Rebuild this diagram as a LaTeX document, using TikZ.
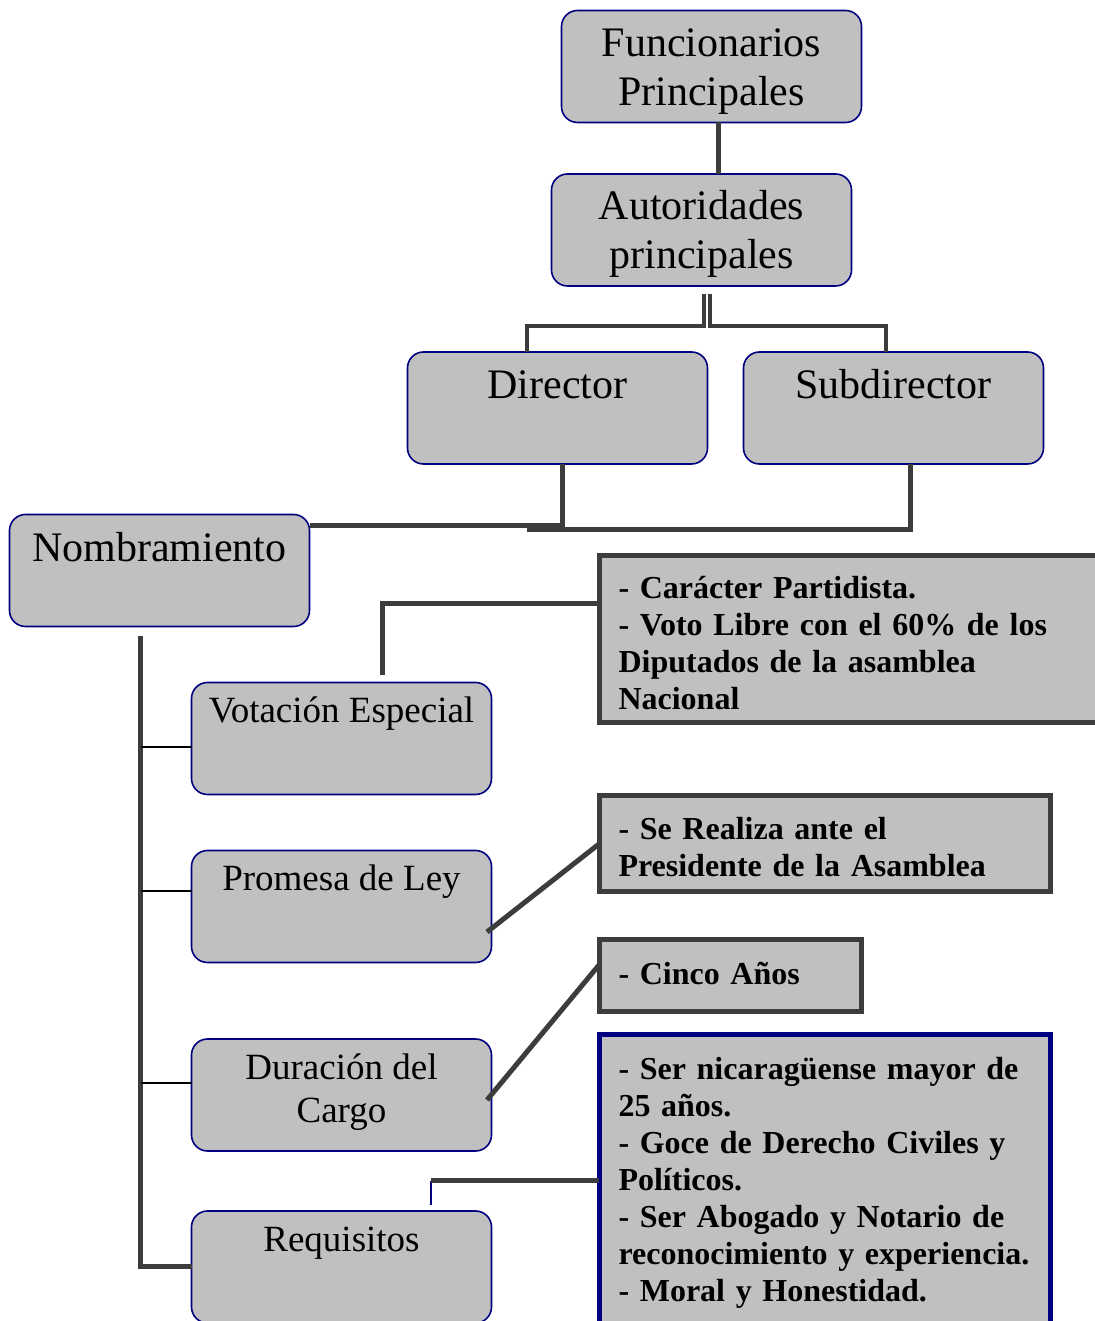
\documentclass[tikz,border=0pt]{standalone}
\usepackage{fontspec}
\setmainfont{Liberation Serif}
\usetikzlibrary{positioning,calc}
\definecolor{boxgray}{HTML}{C0C0C0}
\definecolor{navyline}{HTML}{000080}
\definecolor{linkgray}{HTML}{3C3C3C}
\newcommand{\hstrut}[1]{\rule{0pt}{#1}}
\newcommand{\dstrut}[1]{\rule[-#1]{0pt}{#1}}

\begin{document}
\begin{tikzpicture}[x=1pt, y=1pt,
  unit/.style={draw=navyline, line width=1.6pt, fill=boxgray, rounded corners=16pt,
    minimum width=300pt, minimum height=112pt, inner sep=0pt, outer sep=0pt, align=center},
  bigunit/.style={unit, font=\fontsize{42}{49}\selectfont},
  smallunit/.style={unit, font=\fontsize{37}{43}\selectfont},
  note/.style={draw=linkgray, line width=5pt, fill=boxgray, anchor=north west,
    inner xsep=19.5pt, inner ysep=0pt, outer sep=0pt, align=left,
    font=\bfseries\fontsize{32}{37}\selectfont},
  link/.style={draw=linkgray, line width=5pt},
  twig/.style={draw=black, line width=1.5pt},
  stem/.style={draw=navyline, line width=1.5pt},
]
\useasboundingbox (0,0) rectangle (1094,1321);

% organigrama
\node[bigunit] (func) at (711.5,1254.5) {\hstrut{38pt}Funcionarios\\Principales\dstrut{9pt}};
\node[bigunit] (auth) at (701.5,1091) {\hstrut{38pt}Autoridades\\principales\dstrut{9pt}};
\node[bigunit] (dir) at (557.5,913) {\hstrut{40pt}Director\\\dstrut{9pt}};
\node[bigunit] (sub) at (893.5,913) {\hstrut{40pt}Subdirector\\\dstrut{9pt}};
\node[bigunit] (nomb) at (159.5,750.5) {\hstrut{40pt}Nombramiento\\\dstrut{9pt}};
\node[smallunit] (vot) at (341.5,582.5) {\hstrut{32pt}Votación Especial\\\dstrut{20pt}};
\node[smallunit] (prom) at (341.5,414.5) {\hstrut{32pt}Promesa de Ley\\\dstrut{20pt}};
\node[smallunit] (dur) at (341.5,226) {\hstrut{32pt}Duración del\\Cargo\dstrut{20pt}};
\node[smallunit] (req) at (341.5,54) {\hstrut{32pt}Requisitos\\\dstrut{20pt}};

% detalles
\node[note, text width=501pt, minimum height=167pt] (inf1) at (599,765)
  {\hstrut{38pt}- Carácter Partidista.\\- Voto Libre con el 60\% de los\\Diputados de la asamblea\\Nacional\dstrut{8pt}};
\node[note, text width=412pt, minimum height=96pt] (inf2) at (599,525)
  {\hstrut{36pt}- Se Realiza ante el\\Presidente de la Asamblea\dstrut{8pt}};
\node[note, text width=223pt, minimum height=72pt] (inf3) at (599,381)
  {\hstrut{22pt}- Cinco Años\dstrut{6pt}};
\node[note, draw=navyline, text width=412pt, minimum height=290pt] (inf4) at (599,286)
  {\hstrut{28pt}- Ser nicaragüense mayor de\\25 años.\\- Goce de Derecho Civiles y\\Políticos.\\- Ser Abogado y Notario de\\reconocimiento y experiencia.\\- Moral y Honestidad.};

% conexiones
\coordinate (fa) at ([xshift=6.5pt]func.south);
\draw[link] (fa) -- (fa |- auth.north);
\coordinate (asl) at ([shift={(2.5,-8)}]auth.south);
\coordinate (asr) at ([shift={(8.5,-8)}]auth.south);
\draw[link, line width=4pt] (asl) -- ++(0,-32) -| ([xshift=-30.5pt]dir.north);
\draw[link, line width=4pt] (asr) -- ++(0,-32) -| ([xshift=-7.5pt]sub.north);
\draw[link] ([xshift=4.5pt]dir.south) |- ([yshift=-11pt]nomb.north east);
\draw[link] ([xshift=16.5pt]sub.south) -- ++(0,-66) -- ++(-383,0);

\coordinate (tk) at ([shift={(-19.5,-10)}]nomb.south);
\draw[link] (tk) |- (req.west);
\draw[twig] ([yshift=-8.5pt]vot.west) -- ++(-51,0);
\draw[twig] ([yshift=15.5pt]prom.west) -- ++(-51,0);
\draw[twig] ([yshift=12pt]dur.west) -- ++(-51,0);

\draw[link] ([shift={(40.5,7)}]vot.north) |- ([yshift=35.5pt]inf1.west);
\draw[link] ([shift={(-4.5,-25.5)}]prom.east) -- (inf2.west);
\draw[link] ([shift={(-4.5,-5)}]dur.east) -- ([yshift=11pt]inf3.west);
\coordinate (rq) at ([shift={(89.5,30)}]req.north);
\draw[stem] ([shift={(89.5,6)}]req.north) -- (rq);
\draw[link] (rq) -- (rq -| inf4.west);
\end{tikzpicture}
\end{document}
